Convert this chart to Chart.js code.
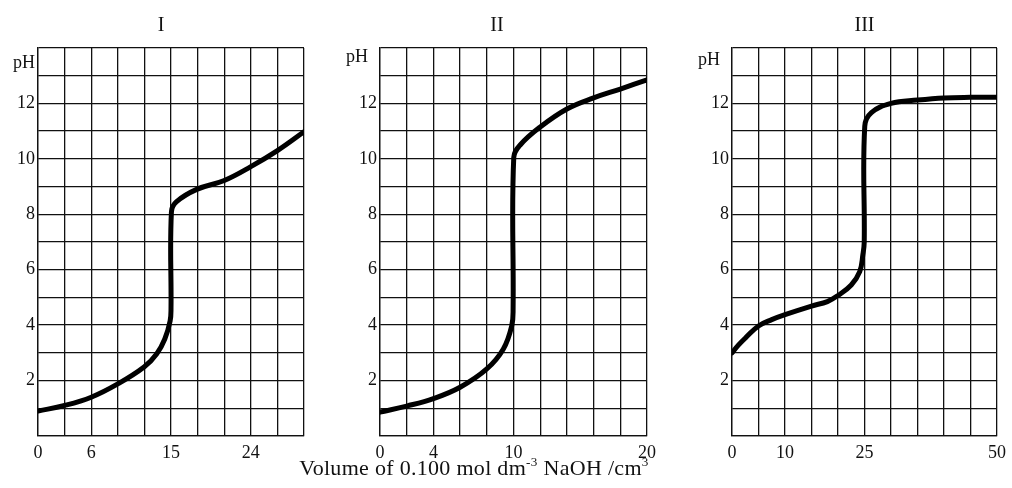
<!DOCTYPE html>
<html>
<head>
<meta charset="utf-8">
<script src="https://cdn.jsdelivr.net/npm/chart.js@4/dist/chart.umd.min.js"></script>
<style>
body { margin: 0; background: #fff; width: 1012px; height: 488px; overflow: hidden; position: relative; font-family: 'Liberation Serif', serif; }
.panel { position: absolute; top: 0; height: 466px; }
#xtitle { position: absolute; top: 457px; left: 0; width: 948px; text-align: center; font-size: 22px; letter-spacing: 0.3px; line-height: 22px; color: #111; }
#xtitle sup { font-size: 0.6em; line-height: 0; vertical-align: 0.65em; }
</style>
</head>
<body>
<div class="panel" style="left:0;width:322px"><canvas id="c1"></canvas></div>
<div class="panel" style="left:329px;width:336px"><canvas id="c2"></canvas></div>
<div class="panel" style="left:688px;width:324px"><canvas id="c3"></canvas></div>
<div id="xtitle">Volume of 0.100 mol dm<sup>-3</sup> NaOH /cm<sup>3</sup></div>
<script>
// titration curves, pH vs volume of NaOH added
const titles = ['I', 'II', 'III'];

const volI = [0, 3, 6, 9, 12, 13.4, 14.3, 14.9, 15.0, 15.05, 15.6, 17.9, 21, 24, 27, 30];
const phI  = [0.9, 1.1, 1.4, 1.88, 2.5, 2.97, 3.5, 4.15, 4.6, 8.1, 8.45, 8.9, 9.22, 9.72, 10.3, 10.98];

const volII = [0, 2, 4, 6, 8, 9.24, 9.87, 9.97, 10.02, 10.5, 12, 14, 16, 18, 20];
const phII  = [0.86, 1.08, 1.35, 1.76, 2.42, 3.14, 3.98, 4.6, 10.05, 10.5, 11.15, 11.8, 12.2, 12.52, 12.85];

const volIII = [0, 1.2, 2.6, 5, 7.5, 10, 15, 18, 20, 22.5, 24.1, 24.7, 24.95, 25.05, 26.3, 30, 35, 40, 45, 50];
const phIII  = [3.0, 3.28, 3.55, 3.97, 4.2, 4.38, 4.69, 4.85, 5.07, 5.45, 5.93, 6.55, 7.0, 11.18, 11.67, 12.0, 12.12, 12.2, 12.22, 12.22];

const xMaxes = [30, 20, 50];
const xSteps = [3, 2, 5];
const xLabelsI = [0, 6, 15, 24];
const xLabelsII = [0, 4, 10, 20];
const xLabelsIII = [0, 10, 25, 50];
const phLabels = [2, 4, 6, 8, 10, 12];
const phMax = 14;

const serif = "'Liberation Serif', 'Times New Roman', serif";
const ink = '#111';

function makeChart(id, title, vols, phs, xMax, xStep, xLabels, axisW, padR, phAt, phText, fullTitle) {
    const pts = vols.map((v, i) => ({ x: v, y: phs[i] }));
    new Chart(document.getElementById(id), {
        type: 'line',
        data: {
            datasets: [{
                data: pts,
                borderColor: '#000',
                borderWidth: 5,
                pointRadius: 0,
                fill: false,
                tension: 0.4,
                borderCapStyle: 'round',
                borderJoinStyle: 'round'
            }]
        },
        options: {
            responsive: true,
            maintainAspectRatio: false,
            animation: false,
            layout: { padding: 0 },
            plugins: {
                legend: { display: false },
                tooltip: { enabled: false },
                title: {
                    display: true,
                    text: title,
                    color: ink,
                    fullSize: fullTitle,
                    font: { family: serif, size: 20, weight: 'normal', lineHeight: 1.2 },
                    padding: { top: 14, bottom: 10 }
                }
            },
            scales: {
                x: {
                    type: 'linear',
                    min: 0,
                    max: xMax,
                    afterBuildTicks: s => {
                        s.ticks = [];
                        for (let i = 0; i * xStep <= xMax; i++) s.ticks.push({ value: i * xStep });
                    },
                    afterFit: s => { s.height = 30; },
                    grid: { color: ink, lineWidth: 1.3, drawTicks: false },
                    border: { color: ink, width: 1.3 },
                    ticks: {
                        autoSkip: false,
                        maxRotation: 0,
                        padding: 6,
                        color: ink,
                        font: { family: serif, size: 18, lineHeight: 1.2 },
                        callback: v => xLabels.includes(v) ? String(v) : ''
                    }
                },
                y: {
                    type: 'linear',
                    min: 0,
                    max: phMax,
                    afterBuildTicks: s => {
                        s.ticks = [];
                        for (let v = 0; v <= phMax; v++) {
                            if (v === phMax) s.ticks.push({ value: phAt });
                            s.ticks.push({ value: v });
                        }
                    },
                    afterFit: s => { s.width = axisW; },
                    grid: {
                        color: c => (c.tick && c.tick.value === phAt) ? 'rgba(0,0,0,0)' : ink,
                        lineWidth: 1.3,
                        drawTicks: false
                    },
                    border: { color: ink, width: 1.3 },
                    ticks: {
                        autoSkip: false,
                        padding: 3,
                        color: ink,
                        font: { family: serif, size: 18, lineHeight: 1.2 },
                        callback: v => v === phAt ? phText : (phLabels.includes(v) ? String(v) : '')
                    }
                },
                // empty right-hand strip so the title centres like the original
                gap: {
                    type: 'linear',
                    position: 'right',
                    display: true,
                    afterFit: s => { s.width = padR; },
                    grid: { display: false, drawOnChartArea: false },
                    border: { display: false },
                    ticks: { display: false }
                }
            }
        }
    });
}

makeChart('c1', titles[0], volI, phI, xMaxes[0], xSteps[0], xLabelsI, 38, 18, 13.45, 'pH', true);
makeChart('c2', titles[1], volII, phII, xMaxes[1], xSteps[1], xLabelsII, 51, 18, 13.65, 'pH  ', true);
makeChart('c3', titles[2], volIII, phIII, xMaxes[2], xSteps[2], xLabelsIII, 44, 13, 13.55, 'pH  ', false);
</script>
</body>
</html>
